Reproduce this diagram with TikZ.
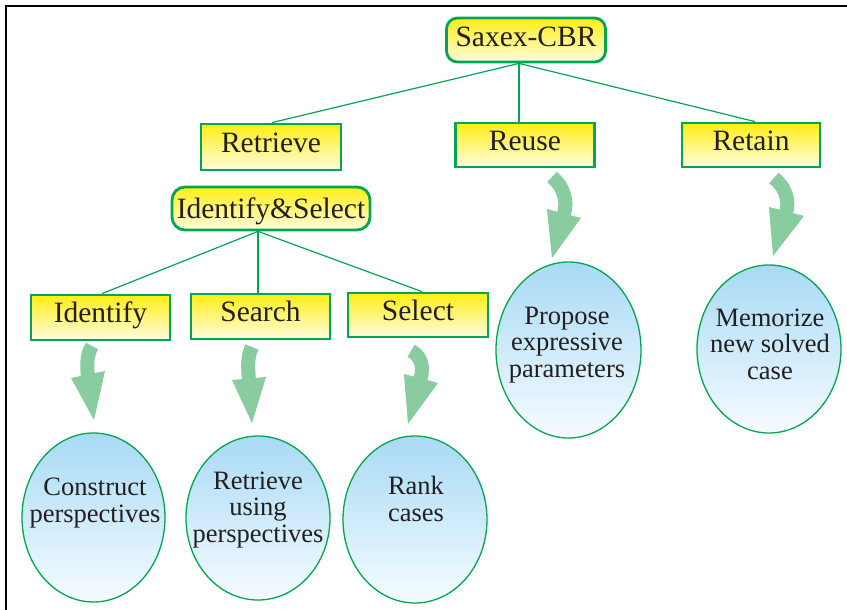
\documentclass[tikz,border=0pt]{standalone}
\usepackage{fontspec}
\setmainfont{Liberation Serif}
\usetikzlibrary{shapes.geometric}
\definecolor{gline}{RGB}{0,166,81}
\definecolor{arrowg}{RGB}{136,204,160}
\definecolor{ytop}{RGB}{255,238,20}
\definecolor{ybot}{RGB}{255,252,225}
\definecolor{btop}{RGB}{168,218,245}
\definecolor{bbot}{RGB}{246,251,255}
\definecolor{txt}{RGB}{35,31,32}
\tikzset{
  boxstyle/.style={draw=gline, line width=2.8pt, top color=ytop, bottom color=ybot,
    inner sep=0pt, text=txt, font=\fontsize{29.5}{31}\selectfont,
    text height=20pt, text depth=10pt},
  rboxstyle/.style={boxstyle, rounded corners=11pt},
  ellstyle/.style={ellipse, draw=gline, line width=1.3pt, top color=btop, bottom color=bbot, inner sep=0pt},
  elltext/.style={align=center, text=txt, font=\fontsize{26.5}{26.5}\selectfont, inner sep=0pt},
  conn/.style={draw=gline, line width=1.2pt},
  shaft/.style={draw=arrowg, line width=14pt},
  head/.style={fill=arrowg},
}
\begin{document}
\begin{tikzpicture}[x=1pt,y=-1pt]
\useasboundingbox (0,0) rectangle (847,610);
% frame
\draw[line width=2.5pt] (6,610) -- (6,6) -- (847,6);

% boxes
\node[rboxstyle, text depth=7pt, minimum width=159pt, minimum height=44pt] (sax) at (526,40) {Saxex-CBR};
\node[boxstyle, minimum width=140pt, minimum height=46pt] (ret) at (271,147) {Retrieve};
\node[boxstyle, minimum width=139pt, minimum height=44pt] (reu) at (525,145) {Reuse};
\node[boxstyle, minimum width=138pt, minimum height=44pt] (rtn) at (751,145) {Retain};
\node[rboxstyle, rounded corners=13pt, text depth=0pt, minimum width=198pt, minimum height=43pt] (ias) at (271,208.5) {Identify\&Select};
\node[boxstyle, minimum width=139pt, minimum height=45pt] (idf) at (100.5,317.5) {Identify};
\node[boxstyle, minimum width=139pt, minimum height=45pt] (sea) at (260.5,316.5) {Search};
\node[boxstyle, minimum width=140pt, minimum height=44pt] (sel) at (418,315) {Select};

% connectors
\coordinate (sx) at ([xshift=-7pt]sax.south);
\draw[conn] (sx) -- ([xshift=1pt]ret.north);
\draw[conn] (sx) -- (sx |- reu.north);
\draw[conn] (sx) -- ([xshift=4pt]rtn.north);
\coordinate (ix) at ([xshift=-13pt]ias.south);
\draw[conn] (ix) -- ([xshift=1.5pt]idf.north);
\draw[conn] (ix) -- (ix |- sea.north);
\draw[conn] (ix) -- ([xshift=4pt]sel.north);

% ellipses
\node[ellstyle, minimum width=143pt, minimum height=169pt] (e1) at (93.5,517.5) {};
\node[ellstyle, minimum width=144pt, minimum height=164pt] (e2) at (258,518) {};
\node[ellstyle, minimum width=144pt, minimum height=167pt] (e3) at (415,519.5) {};
\node[ellstyle, minimum width=145pt, minimum height=176pt] (e4) at (568.5,350) {};
\node[ellstyle, minimum width=144pt, minimum height=168pt] (e5) at (769,349) {};

\node[elltext] (t1) at (95,503) {Construct\\perspectives};
\node[elltext] (t2) at (258,510) {Retrieve\\using\\perspectives};
\node[elltext] (t3) at (416,499) {Rank\\cases};
\node[elltext] (t4) at (567,345) {Propose\\expressive\\parameters};
\node[elltext] (t5) at (770,344) {Memorize\\new solved\\case};

% curved arrows
% Identify
\draw[shaft] (92,346) .. controls (86,356) and (87,367) .. (88,378);
\fill[head] (71,378) -- (105,371) -- (94,420) -- cycle;
% Search
\draw[shaft] (252,347) .. controls (247,357) and (248,368) .. (249,381);
\fill[head] (232,380) -- (266,377) -- (252,423) -- cycle;
% Select
\draw[shaft] (411,351) .. controls (420,355) and (425,366) .. (420,380);
\fill[head] (404,374) -- (438,383) -- (408,424) -- cycle;
% Reuse
\draw[shaft] (552,177) .. controls (563,186) and (568,200) .. (564,214);
\fill[head] (547,209) -- (581,218) -- (552,258) -- cycle;
% Retain
\draw[shaft] (774,178) .. controls (785,187) and (790,200) .. (786,213);
\fill[head] (769,207) -- (804,216) -- (773,256) -- cycle;
\end{tikzpicture}
\end{document}
